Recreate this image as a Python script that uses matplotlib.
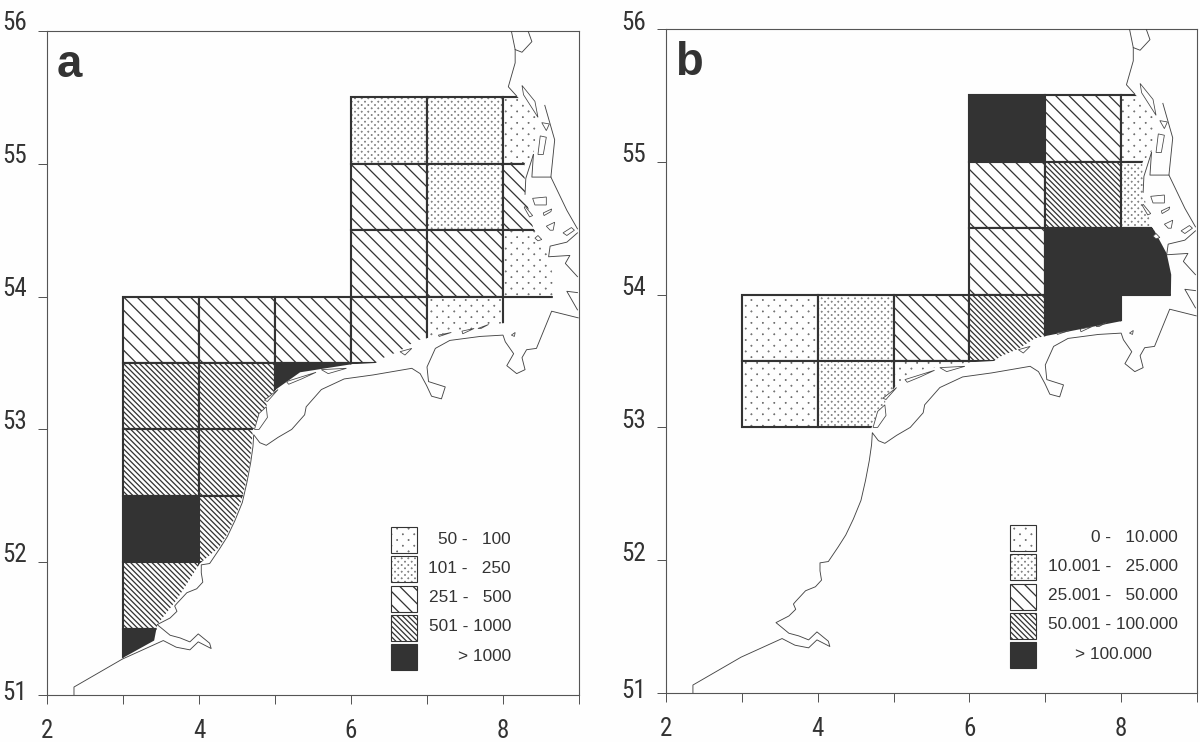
import matplotlib
matplotlib.use("Agg")
import matplotlib.pyplot as plt
from matplotlib import hatch as mhatch
from matplotlib.path import Path
from matplotlib.patches import Polygon, Rectangle
from matplotlib.transforms import ScaledTranslation
from matplotlib import font_manager as fm
import numpy as np

# ---- data -------------------------------------------------------------
x_ticks = [2, 3, 4, 5, 6, 7, 8, 9]
x_labels = ["2", "", "4", "", "6", "", "8", ""]
y_ticks = [51, 52, 53, 54, 55, 56]
y_labels = ["51", "52", "53", "54", "55", "56"]

# coast, lon/lat
main_coast = [(2.355, 51.0), (2.355, 51.06), (2.99, 51.27), (3.53, 51.41), (3.70, 51.36), (3.88, 51.34), (3.99, 51.40),
              (4.16, 51.35), (4.14, 51.39), (3.99, 51.46), (3.88, 51.40), (3.75, 51.43), (3.62, 51.45), (3.45, 51.53),
              (3.62, 51.58), (3.71, 51.63), (3.68, 51.67), (3.71, 51.69), (3.84, 51.77), (3.97, 51.80), (4.05, 51.85),
              (4.03, 51.92), (4.03, 51.98), (4.14, 51.99), (4.27, 52.10), (4.37, 52.19), (4.47, 52.31), (4.57, 52.45),
              (4.63, 52.60), (4.68, 52.75), (4.71, 52.87), (4.72, 52.96), (4.80, 52.90), (4.885, 52.88), (5.04, 52.94),
              (5.22, 53.00), (5.39, 53.11), (5.41, 53.17), (5.61, 53.30), (5.91, 53.38), (6.29, 53.41), (6.80, 53.46),
              (6.91, 53.42), (6.995, 53.33), (7.06, 53.25), (7.19, 53.23), (7.24, 53.32), (7.02, 53.36),
              (7.0, 53.47), (7.11, 53.61), (7.30, 53.67), (7.70, 53.70), (8.0, 53.71), (8.03, 53.66),
              (8.14, 53.57), (8.05, 53.48), (8.18, 53.42), (8.29, 53.45), (8.25, 53.54), (8.31, 53.60),
              (8.44, 53.61), (8.64, 53.89), (8.99, 53.84)]
elbe_south = [(8.98, 54.03), (8.84, 54.04), (8.98, 53.90)]
eider = [(8.98, 54.15), (8.82, 54.25), (8.88, 54.31), (8.60, 54.30), (8.62, 54.38), (8.84, 54.41), (8.98, 54.48)]
north_coast = [(8.11, 56.0), (8.16, 55.86), (8.16, 55.76), (8.07, 55.58), (8.18, 55.51)]
north_hook = [(8.33, 56.0), (8.38, 55.92), (8.25, 55.84), (8.16, 55.86)]
jutland = [(8.55, 55.44), (8.68, 55.18), (8.63, 54.90), (8.84, 54.65), (8.98, 54.51)]
sylt_a = [(8.40, 55.07), (8.30, 54.89), (8.29, 54.77)]
sylt_b = [(8.40, 55.07), (8.38, 54.90), (8.63, 54.90)]
open_coasts = [main_coast, elbe_south, eider, north_coast, north_hook, jutland, sylt_a, sylt_b]

islands = [
    [(8.25, 55.59), (8.42, 55.47), (8.46, 55.35), (8.27, 55.52)],
    [(8.51, 55.31), (8.61, 55.30), (8.57, 55.25)],
    [(8.49, 55.21), (8.57, 55.20), (8.53, 55.07), (8.46, 55.07)],
    [(8.39, 54.74), (8.57, 54.75), (8.57, 54.69), (8.42, 54.69)],
    [(8.29, 54.68), (8.39, 54.61), (8.35, 54.60), (8.28, 54.67)],
    [(8.53, 54.63), (8.64, 54.66), (8.63, 54.64), (8.54, 54.61)],
    [(8.57, 54.53), (8.68, 54.56), (8.66, 54.50), (8.62, 54.50)],
    [(8.79, 54.48), (8.90, 54.52), (8.94, 54.50), (8.84, 54.46)],
    [(8.42, 54.44), (8.46, 54.46), (8.51, 54.43), (8.46, 54.42)],
    [(8.11, 53.71), (8.16, 53.73), (8.15, 53.70)],
    [(4.73, 53.0), (4.79, 53.12), (4.885, 53.17), (4.90, 53.09), (4.79, 53.0)],
    [(4.86, 53.22), (5.04, 53.30), (4.90, 53.21)],
    [(5.15, 53.36), (5.54, 53.43), (5.35, 53.38), (5.18, 53.34)],
    [(5.61, 53.45), (5.94, 53.46), (5.70, 53.42)],
    [(6.645, 53.585), (6.80, 53.61), (6.71, 53.56)],
    [(7.15, 53.71), (7.32, 53.73), (7.16, 53.70)],
    [(7.46, 53.74), (7.62, 53.76), (7.47, 53.72)],
    [(7.67, 53.76), (7.81, 53.79), (7.71, 53.76)],
]

sea_limit = [(2, 56), (2, 51), (2.355, 51.06), (3.0, 51.28), (3.41, 51.41), (3.45, 51.53), (3.71, 51.72),
             (4.01, 51.99), (4.26, 52.11), (4.36, 52.20), (4.46, 52.32), (4.56, 52.47), (4.62, 52.60), (4.67, 52.75),
             (4.71, 53.0), (4.89, 53.17), (4.89, 53.22),
             (5.01, 53.30), (5.33, 53.43), (6.0, 53.49), (6.32, 53.50), (6.43, 53.54), (6.64, 53.59),
             (6.86, 53.67), (7.02, 53.69), (8.0, 53.80), (8.65, 53.80), (8.66, 54.15), (8.60, 54.31),
             (8.44, 54.48), (8.40, 54.51), (8.29, 54.77), (8.28, 55.0), (8.40, 55.07), (8.46, 55.35),
             (8.18, 55.51), (8.18, 56)]

# grid cells: west lon, south lat, class (0..4)
cells_a_lon = [6, 7, 8, 6, 7, 8, 6, 7, 8, 3, 4, 5, 6, 7, 3, 4, 5, 3, 4, 3, 4, 3, 3]
cells_a_lat = [55, 55, 55, 54.5, 54.5, 54.5, 54, 54, 54, 53.5, 53.5, 53.5, 53.5, 53.5,
               53, 53, 53, 52.5, 52.5, 52, 52, 51.5, 51]
cells_a_cls = [1, 1, 0, 2, 1, 2, 2, 2, 0, 2, 2, 2, 2, 0, 3, 3, 4, 3, 3, 4, 3, 3, 4]

cells_b_lon = [6, 7, 8, 6, 7, 8, 6, 7, 8, 3, 4, 5, 6, 7, 3, 4, 5]
cells_b_lat = [55, 55, 55, 54.5, 54.5, 54.5, 54, 54, 54, 53.5, 53.5, 53.5, 53.5, 53.5, 53, 53, 53]
cells_b_cls = [4, 2, 0, 2, 3, 1, 2, 4, 4, 0, 1, 2, 3, 4, 0, 1, 0]

legend_a = ["50 -   100", "101 -   250", "251 -   500", "501 - 1000", "> 1000"]
legend_b = ["0 -   10.000", "10.001 -   25.000", "25.001 -   50.000", "50.001 - 100.000", "> 100.000"]


# ---- style ------------------------------------------------------------
class DotLattice(mhatch.HatchPatternBase):
    """Staggered dots on the hatch tile: 'O' sparse, 'OO' dense."""

    def __init__(self, hatch, density):
        n = hatch.count("O")
        self.nx, self.ny, self.r = {1: (7, 14, 0.25 / 80), 2: (12, 24, 0.22 / 80)}.get(n, (0, 0, 0))
        circle = Path.unit_circle()
        self.sv = circle.vertices * self.r
        self.sc = circle.codes
        self.num_vertices = self.nx * self.ny * len(self.sv)

    def set_vertices_and_codes(self, vertices, codes):
        k = 0
        m = len(self.sv)
        for j in range(self.ny):
            for i in range(self.nx):
                cx = (i + 0.25 + 0.5 * (j % 2)) / self.nx
                cy = (j + 0.5) / self.ny
                vertices[k:k + m] = self.sv + np.array([cx, cy])
                codes[k:k + m] = self.sc
                k += m


mhatch._hatch_types[mhatch._hatch_types.index(mhatch.LargeCircles)] = DotLattice

INK = "#333333"
HATCH = ["O", "OO", "\\\\", "\\\\\\\\\\", None]
plt.rcParams["hatch.linewidth"] = 1.15
BASE = ["Liberation Sans", "DejaVu Sans"]
names = {f.name for f in fm.fontManager.ttflist}
NARROW = BASE
for cand in ["Liberation Sans Narrow", "Roboto Condensed", "Open Sans Condensed", "Noto Sans Condensed"]:
    if cand in names:
        NARROW = [cand] + BASE
        break
plt.rcParams["font.family"] = BASE

DPI = 80
W, H = 1200, 742
BG = "#fefefe"
fig = plt.figure(figsize=(W / DPI, H / DPI), dpi=DPI, facecolor=BG)


def cell_patch(x, y, w, h, cls, lw, **kw):
    return Rectangle((x, y), w, h, facecolor=INK if cls == 4 else BG, edgecolor=INK,
                     hatch=HATCH[cls], linewidth=lw, **kw)


def panel(box, letter, letter_dx, lons, lats, classes, legend, text_right, last_right, ygap, swatch_x, swatch_top):
    L, T, R, B = box
    ax = fig.add_axes([L / W, (H - B) / H, (R - L) / W, (B - T) / H], facecolor=BG)
    ax.set_xlim(2, 9)
    ax.set_ylim(51, 56)
    for s in ax.spines.values():
        s.set_color("#555555")
        s.set_linewidth(1.0)
    ax.set_xticks(x_ticks)
    ax.set_xticklabels(x_labels, fontsize=22.5, color=INK, family=NARROW)
    ax.set_yticks(y_ticks)
    ax.set_yticklabels(y_labels, fontsize=22.5, color=INK, family=NARROW)
    ax.tick_params(axis="x", length=8, width=0.9, color="#555555", pad=14)
    ax.tick_params(axis="y", length=8, width=0.9, color="#555555", pad=10)
    for lab, v in zip(ax.get_yticklabels(), y_ticks):
        dy = (5 if v == 51 else ygap) / DPI
        lab.set_transform(lab.get_transform() + ScaledTranslation(0, dy, fig.dpi_scale_trans))

    clip = Polygon(sea_limit, closed=True, transform=ax.transData)
    for x, y, c in zip(lons, lats, classes):
        p = cell_patch(x, y, 1, 0.5, c, 1.9, zorder=2)
        ax.add_patch(p)
        p.set_clip_path(clip)

    for line in open_coasts:
        xs, ys = zip(*line)
        ax.plot(xs, ys, color="#444444", lw=0.8, zorder=3, solid_joinstyle="round")
    for isl in islands:
        ax.add_patch(Polygon(isl, closed=True, facecolor=BG, edgecolor="#444444", lw=0.7, zorder=4))

    ax.text(letter_dx / (R - L), 1 - 46 / (B - T), letter, transform=ax.transAxes, fontsize=41, fontweight="bold",
            color=INK, ha="left", va="baseline", zorder=6)

    for i, (c, lab) in enumerate(zip([0, 1, 2, 3, 4], legend)):
        top = swatch_top + i * 29.3
        ax.add_patch(cell_patch((swatch_x - L) / (R - L), (B - top - 26) / (B - T), 26 / (R - L), 26 / (B - T),
                                c, 1.0, transform=ax.transAxes, zorder=5))
        right = last_right if i == 4 else text_right
        ax.text((right - L) / (R - L), (B - top - 12) / (B - T), lab, transform=ax.transAxes,
                ha="right", va="center", fontsize=15.5, color=INK, zorder=5)
    return ax


panel((47, 31, 579, 695), "a", 10, cells_a_lon, cells_a_lat, cells_a_cls, legend_a, 511, 511, 10, 391, 527)
panel((666, 29, 1197, 693), "b", 9, cells_b_lon, cells_b_lat, cells_b_cls, legend_b, 1178, 1152, 9, 1010, 525)

fig.savefig("out.png", dpi=DPI, facecolor=BG)
